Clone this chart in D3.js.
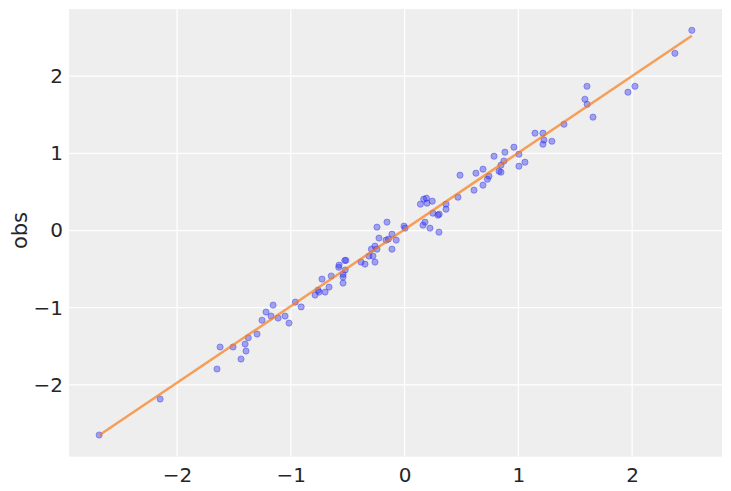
<!DOCTYPE html>
<html>
<head>
<meta charset="utf-8">
<script src="https://cdn.jsdelivr.net/npm/d3@7"></script>
<style>
  body { margin: 0; background: #fff; }
  text { font-family: "DejaVu Sans", sans-serif; fill: #262626; }
</style>
</head>
<body>
<div id="chart"></div>
<script>
const width = 731;
const height = 491;

const xs = [
  -2.685, -2.149, -1.649, -1.622, -1.508, -1.438, -1.394, -1.402, -1.374, -1.297,
  -1.253, -1.218, -1.174, -1.156, -1.112, -1.051, -1.016, -0.960, -0.909, -0.787,
  -0.761, -0.752, -0.699, -0.664, -0.726, -0.645, -0.576, -0.579, -0.526, -0.516,
  -0.541, -0.541, -0.541, -0.522, -0.383, -0.348, -0.313, -0.278, -0.260, -0.292,
  -0.260, -0.243, -0.225, -0.243, -0.155, -0.163, -0.142, -0.111, -0.074, -0.111,
  -0.005, 0.004, 0.139, 0.168, 0.192, 0.197, 0.243, 0.249, 0.179, 0.162,
  0.223, 0.302, 0.293, 0.304, 0.364, 0.364, 0.469, 0.487, 0.610, 0.627,
  0.689, 0.689, 0.728, 0.742, 0.786, 0.830, 0.847, 0.847, 0.873, 0.882,
  0.961, 1.005, 1.005, 1.058, 1.146, 1.216, 1.225, 1.216, 1.295, 1.401,
  1.603, 1.585, 1.605, 1.656, 1.963, 2.025, 2.376, 2.525
];
const ys = [
  -2.649, -2.183, -1.794, -1.509, -1.509, -1.665, -1.561, -1.471, -1.389, -1.341,
  -1.162, -1.056, -1.108, -0.966, -1.134, -1.108, -1.199, -0.927, -0.990, -0.836,
  -0.772, -0.797, -0.797, -0.733, -0.629, -0.589, -0.448, -0.476, -0.388, -0.386,
  -0.603, -0.567, -0.681, -0.511, -0.409, -0.435, -0.331, -0.331, -0.409, -0.241,
  -0.202, -0.241, -0.098, 0.044, 0.109, -0.124, -0.111, -0.047, -0.124, -0.241,
  0.057, 0.031, 0.342, 0.406, 0.419, 0.355, 0.381, 0.225, 0.109, 0.070,
  0.031, -0.021, 0.199, 0.212, 0.342, 0.277, 0.432, 0.717, 0.523, 0.743,
  0.588, 0.795, 0.665, 0.704, 0.963, 0.769, 0.756, 0.847, 0.900, 1.015,
  1.080, 0.989, 0.834, 0.885, 1.261, 1.261, 1.172, 1.118, 1.157, 1.377,
  1.869, 1.701, 1.636, 1.469, 1.792, 1.869, 2.296, 2.594
];

// fitted line
const lineX = [-2.685, 2.525];
const lineY = [-2.653, 2.523];

const xTicks = [-2, -1, 0, 1, 2];
const yTicks = [-2, -1, 0, 1, 2];

const margin = { top: 9, right: 9, bottom: 34.3, left: 69 };
const iw = width - margin.left - margin.right;
const ih = height - margin.top - margin.bottom;

const x = d3.scaleLinear().domain([-2.95, 2.79]).range([0, iw]);
const y = d3.scaleLinear().domain([-2.93, 2.87]).range([ih, 0]);

const svg = d3.select("#chart")
  .append("svg")
  .attr("width", width)
  .attr("height", height);

const g = svg.append("g")
  .attr("transform", `translate(${margin.left},${margin.top})`);

g.append("rect")
  .attr("width", iw)
  .attr("height", ih)
  .attr("fill", "#eeeeee");

// grid
g.selectAll(".xgrid")
  .data(xTicks)
  .enter()
  .append("line")
  .attr("x1", d => x(d)).attr("x2", d => x(d))
  .attr("y1", 0).attr("y2", ih)
  .attr("stroke", "#fff")
  .attr("stroke-width", 1.2);

g.selectAll(".ygrid")
  .data(yTicks)
  .enter()
  .append("line")
  .attr("y1", d => y(d)).attr("y2", d => y(d))
  .attr("x1", 0).attr("x2", iw)
  .attr("stroke", "#fff")
  .attr("stroke-width", 1.2);

// axes (no spines, no tick marks)
const fmt = d3.format("d");
const xAxis = g.append("g")
  .attr("transform", `translate(0,${ih})`)
  .call(d3.axisBottom(x).tickValues(xTicks).tickFormat(fmt).tickSize(0).tickPadding(11));
const yAxis = g.append("g")
  .call(d3.axisLeft(y).tickValues(yTicks).tickFormat(fmt).tickSize(0).tickPadding(6));

[xAxis, yAxis].forEach(a => {
  a.select(".domain").remove();
  a.selectAll("text")
    .attr("font-family", "DejaVu Sans, sans-serif")
    .attr("font-size", "20px")
    .attr("fill", "#262626");
});

svg.append("text")
  .attr("transform", `translate(27,${margin.top + y(0)}) rotate(-90)`)
  .attr("text-anchor", "middle")
  .attr("font-size", "21px")
  .text("obs");

// points
const pts = xs.map((v, i) => ({ x: v, y: ys[i] }));
g.selectAll(".pt")
  .data(pts)
  .enter()
  .append("circle")
  .attr("cx", d => x(d.x))
  .attr("cy", d => y(d.y))
  .attr("r", 3.1)
  .attr("fill", "#2a2eec")
  .attr("fill-opacity", 0.4)
  .attr("stroke", "#2a2eec")
  .attr("stroke-opacity", 0.4)
  .attr("stroke-width", 1);

// regression line
g.append("path")
  .datum(lineX.map((v, i) => [v, lineY[i]]))
  .attr("d", d3.line().x(d => x(d[0])).y(d => y(d[1])))
  .attr("fill", "none")
  .attr("stroke", "#fa7c17")
  .attr("stroke-opacity", 0.7)
  .attr("stroke-width", 2.5);
</script>
</body>
</html>
